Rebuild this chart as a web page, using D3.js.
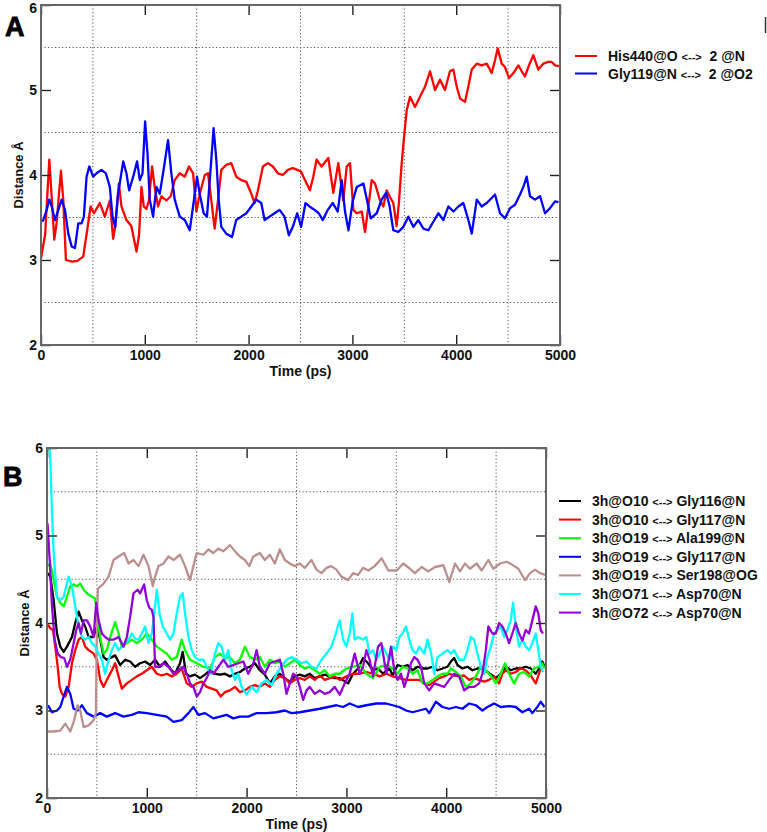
<!DOCTYPE html>
<html>
<head>
<meta charset="utf-8">
<script src="https://cdn.jsdelivr.net/npm/d3@7"></script>
<style>
  html, body { margin: 0; padding: 0; background: #fff; }
  svg { display: block; }
  text { font-family: 'Liberation Sans', Arial, Helvetica, sans-serif; font-weight: bold; }
</style>
</head>
<body>
<svg id="chart" width="767" height="832"></svg>
<script>
// ---------------- DATA ----------------
const xTicks = [0, 1000, 2000, 3000, 4000, 5000];
const yTicks = [2, 3, 4, 5, 6];
const xGrid = [500, 1500, 2500, 3500, 4500];
const yGrid = [2.5, 3.5, 4.5, 5.5];

const legendA = ["His440@O <-->  2 @N", "Gly119@N <-->  2 @O2"];
const colorsA = ["#ff0000", "#0000ff"];

const legendB = ["3h@O10 <--> Gly116@N", "3h@O10 <--> Gly117@N", "3h@O19 <--> Ala199@N",
  "3h@O19 <--> Gly117@N", "3h@O19 <--> Ser198@OG", "3h@O71 <--> Asp70@N", "3h@O72 <--> Asp70@N"];
const colorsB = ["#000000", "#ff0000", "#00ff00", "#0000ff", "#bc8f8f", "#00ffff", "#9400d3"];

// Panel A: His440@O <--> 2@N
const his440 = [[0,3.02],[40,3.3],[80,4.18],[105,3.7],[128,3.24],[150,3.43],[192,4.05],[215,3.7],[240,3.0],[300,2.98],[350,2.99],[407,3.04],[445,3.35],[478,3.63],[510,3.55],[567,3.67],[615,3.51],[663,3.7],[695,3.25],[715,3.4],[750,3.9],[775,3.63],[823,3.47],[870,3.4],[920,3.1],[945,3.3],[968,3.86],[990,3.63],[1016,3.6],[1040,3.7],[1070,4.1],[1095,3.86],[1128,3.63],[1160,3.75],[1208,3.7],[1250,3.75],[1288,3.94],[1337,4.02],[1385,3.98],[1426,4.1],[1465,4.02],[1497,3.57],[1530,3.78],[1578,4.0],[1609,4.02],[1641,3.7],[1673,3.37],[1705,3.7],[1737,4.06],[1785,4.12],[1833,4.14],[1881,3.98],[1929,3.94],[1978,3.92],[2026,3.78],[2058,3.67],[2090,3.82],[2138,4.1],[2186,4.14],[2234,4.1],[2282,4.02],[2330,4.0],[2378,4.06],[2426,4.08],[2470,4.06],[2506,4.04],[2543,3.94],[2591,3.82],[2623,3.98],[2655,4.18],[2703,4.1],[2768,4.2],[2816,3.79],[2864,4.14],[2912,3.7],[2945,4.1],[2977,4.14],[3009,3.59],[3041,3.55],[3090,3.57],[3122,3.33],[3154,3.63],[3186,3.94],[3218,3.9],[3266,3.7],[3298,3.63],[3330,3.82],[3362,3.74],[3394,3.67],[3426,3.4],[3448,3.67],[3475,4.14],[3498,4.45],[3523,4.76],[3555,4.92],[3603,4.8],[3651,4.92],[3700,5.04],[3748,5.22],[3796,5.0],[3844,5.12],[3892,5.0],[3940,5.22],[3973,5.24],[4005,5.04],[4037,4.9],[4085,4.86],[4117,5.04],[4150,5.24],[4198,5.31],[4246,5.29],[4294,5.31],[4342,5.2],[4374,5.35],[4400,5.49],[4438,5.31],[4470,5.27],[4509,5.14],[4551,5.2],[4599,5.29],[4631,5.22],[4663,5.16],[4695,5.27],[4743,5.41],[4791,5.24],[4839,5.31],[4888,5.33],[4920,5.33],[4952,5.29],[4990,5.28]];

// Panel A: Gly119@N <--> 2@O2
const gly119 = [[16,3.45],[55,3.59],[80,3.71],[103,3.63],[135,3.47],[167,3.59],[199,3.71],[231,3.59],[263,3.31],[295,3.16],[327,3.14],[359,3.43],[391,3.43],[413,3.51],[439,3.98],[465,4.1],[503,3.98],[535,4.02],[583,4.06],[625,4.02],[663,3.86],[689,3.51],[715,3.39],[743,3.78],[792,4.16],[823,4.02],[849,3.82],[888,3.98],[926,4.16],[952,3.94],[978,4.02],[1003,4.63],[1026,4.25],[1048,3.71],[1080,3.51],[1112,3.86],[1144,3.78],[1176,4.02],[1224,4.41],[1256,4.02],[1288,3.71],[1337,3.51],[1385,3.47],[1433,3.35],[1465,3.63],[1503,3.98],[1529,3.78],[1567,3.55],[1599,3.51],[1631,4.02],[1663,4.55],[1689,4.18],[1712,3.71],[1737,3.39],[1785,3.31],[1840,3.27],[1881,3.47],[1929,3.51],[1978,3.55],[2026,3.63],[2074,3.71],[2122,3.67],[2154,3.47],[2202,3.51],[2250,3.55],[2298,3.59],[2346,3.51],[2388,3.29],[2426,3.39],[2468,3.55],[2506,3.39],[2548,3.67],[2587,3.63],[2635,3.59],[2676,3.55],[2715,3.47],[2763,3.59],[2811,3.67],[2859,3.57],[2897,3.94],[2929,3.57],[2962,3.35],[3003,3.69],[3042,3.86],[3106,3.9],[3140,3.71],[3176,3.49],[3234,3.55],[3282,3.71],[3324,3.79],[3356,3.65],[3394,3.35],[3442,3.33],[3491,3.39],[3539,3.51],[3587,3.39],[3635,3.47],[3684,3.37],[3732,3.35],[3780,3.45],[3828,3.55],[3876,3.47],[3925,3.63],[3973,3.57],[4021,3.63],[4069,3.67],[4117,3.47],[4150,3.31],[4198,3.71],[4246,3.63],[4294,3.67],[4342,3.73],[4374,3.77],[4422,3.55],[4470,3.49],[4519,3.61],[4567,3.65],[4615,3.77],[4647,3.86],[4679,3.98],[4711,3.75],[4759,3.71],[4808,3.75],[4856,3.55],[4904,3.61],[4952,3.69],[4985,3.68]];

// Panel B series
const o10Gly116 = [[10,4.57],[33,4.53],[67,4.26],[100,3.88],[133,3.73],[167,3.67],[200,3.73],[250,3.84],[283,4.0],[317,4.13],[350,4.03],[383,3.96],[417,3.84],[467,3.84],[500,3.96],[533,3.81],[567,3.61],[600,3.58],[650,3.61],[683,3.63],[733,3.52],[783,3.58],[833,3.56],[883,3.5],[933,3.54],[983,3.56],[1033,3.52],[1083,3.58],[1133,3.5],[1183,3.56],[1233,3.48],[1283,3.42],[1333,3.54],[1360,3.67],[1393,3.42],[1433,3.39],[1483,3.41],[1533,3.37],[1583,3.41],[1633,3.46],[1683,3.42],[1733,3.41],[1783,3.42],[1833,3.39],[1883,3.42],[1933,3.44],[1983,3.48],[2033,3.5],[2083,3.54],[2133,3.46],[2183,3.41],[2233,3.31],[2283,3.39],[2333,3.42],[2383,3.37],[2433,3.33],[2483,3.39],[2533,3.41],[2583,3.39],[2633,3.42],[2683,3.37],[2733,3.39],[2783,3.41],[2833,3.39],[2883,3.37],[2933,3.37],[3017,3.31],[3067,3.42],[3117,3.48],[3167,3.6],[3217,3.54],[3267,3.46],[3317,3.48],[3367,3.42],[3433,3.48],[3463,3.4],[3513,3.52],[3563,3.5],[3613,3.52],[3663,3.46],[3713,3.5],[3763,3.48],[3813,3.48],[3863,3.5],[3913,3.46],[3963,3.48],[4013,3.5],[4047,3.56],[4080,3.6],[4113,3.52],[4163,3.48],[4213,3.5],[4263,3.46],[4313,3.48],[4363,3.48],[4413,3.44],[4463,3.4],[4497,3.37],[4547,3.42],[4597,3.5],[4647,3.46],[4697,3.48],[4747,3.48],[4797,3.5],[4847,3.48],[4897,3.42],[4930,3.48],[4963,3.56],[4987,3.5]];

const o10Gly117 = [[10,3.98],[33,3.94],[60,3.92],[83,3.73],[107,3.5],[127,3.27],[150,3.19],[183,3.16],[217,3.27],[250,3.54],[283,3.69],[317,3.81],[350,3.84],[383,3.73],[417,3.69],[467,3.65],[500,3.58],[533,3.35],[567,3.27],[600,3.35],[650,3.46],[683,3.54],[717,3.39],[750,3.25],[800,3.31],[850,3.35],[900,3.39],[950,3.42],[1000,3.46],[1050,3.5],[1100,3.42],[1150,3.4],[1200,3.42],[1250,3.39],[1300,3.42],[1350,3.48],[1400,3.31],[1450,3.27],[1500,3.31],[1550,3.33],[1600,3.27],[1650,3.25],[1700,3.23],[1740,3.16],[1783,3.21],[1833,3.23],[1883,3.27],[1933,3.21],[1983,3.23],[2033,3.27],[2083,3.29],[2133,3.27],[2183,3.31],[2233,3.27],[2283,3.35],[2333,3.39],[2383,3.37],[2433,3.31],[2483,3.35],[2533,3.37],[2583,3.35],[2633,3.39],[2683,3.35],[2733,3.4],[2783,3.35],[2833,3.37],[2883,3.39],[2933,3.35],[3000,3.39],[3067,3.42],[3133,3.42],[3200,3.44],[3267,3.42],[3333,3.39],[3400,3.42],[3463,3.39],[3530,3.37],[3597,3.35],[3663,3.35],[3730,3.35],[3780,3.31],[3830,3.29],[3880,3.33],[3930,3.37],[3980,3.39],[4030,3.42],[4080,3.4],[4130,3.39],[4180,3.4],[4230,3.35],[4280,3.37],[4330,3.35],[4380,3.33],[4430,3.35],[4480,3.39],[4530,3.31],[4563,3.42],[4597,3.46],[4647,3.42],[4697,3.44],[4747,3.48],[4797,3.46],[4847,3.4],[4897,3.31],[4930,3.42],[4953,3.5]];

const o19Ala199 = [[10,4.65],[33,4.68],[67,4.49],[100,4.3],[133,4.23],[167,4.19],[200,4.3],[233,4.42],[267,4.44],[300,4.42],[333,4.45],[367,4.38],[400,4.34],[450,4.3],[483,4.28],[500,4.11],[533,3.84],[567,3.65],[600,3.69],[633,3.84],[683,4.01],[717,3.88],[750,3.73],[800,3.77],[850,3.81],[900,3.77],[950,3.81],[1000,3.88],[1050,3.81],[1100,3.73],[1150,3.69],[1200,3.65],[1250,3.58],[1300,3.61],[1350,3.81],[1383,3.69],[1433,3.58],[1500,3.54],[1567,3.5],[1633,3.48],[1683,3.61],[1733,3.65],[1783,3.6],[1833,3.61],[1883,3.54],[1933,3.58],[1983,3.73],[2033,3.61],[2083,3.58],[2133,3.61],[2183,3.5],[2233,3.58],[2283,3.54],[2333,3.56],[2383,3.5],[2433,3.54],[2483,3.58],[2533,3.52],[2583,3.48],[2633,3.5],[2683,3.46],[2733,3.42],[2783,3.46],[2833,3.39],[2883,3.42],[2933,3.42],[3000,3.48],[3067,3.5],[3133,3.52],[3200,3.42],[3267,3.37],[3333,3.5],[3400,3.52],[3463,3.48],[3513,3.42],[3563,3.5],[3613,3.48],[3663,3.42],[3713,3.46],[3763,3.31],[3813,3.31],[3863,3.35],[3913,3.39],[3963,3.42],[4013,3.42],[4047,3.48],[4097,3.44],[4147,3.39],[4197,3.27],[4247,3.31],[4297,3.39],[4347,3.5],[4397,3.46],[4447,3.4],[4497,3.31],[4547,3.42],[4590,3.54],[4630,3.42],[4680,3.31],[4730,3.42],[4780,3.44],[4830,3.39],[4880,3.48],[4930,3.5],[4963,3.54],[4987,3.48]];

const o19Gly117 = [[10,3.06],[50,2.98],[100,3.0],[133,3.04],[167,3.16],[200,3.27],[233,3.19],[267,3.02],[307,3.0],[350,3.06],[400,2.97],[467,2.93],[533,2.97],[600,2.93],[683,2.97],[767,2.93],[850,2.95],[917,2.98],[1000,2.97],[1100,2.95],[1200,2.93],[1267,2.87],[1350,2.89],[1417,2.97],[1467,3.04],[1517,2.95],[1583,2.97],[1667,2.91],[1733,2.93],[1800,2.95],[1867,2.91],[1933,2.93],[2017,2.93],[2100,2.97],[2200,2.97],[2300,2.98],[2383,3.0],[2450,2.97],[2533,2.98],[2633,3.0],[2733,3.02],[2817,3.04],[2900,3.06],[2967,3.04],[3033,3.08],[3117,3.04],[3200,3.06],[3300,3.08],[3397,3.08],[3463,3.06],[3530,3.04],[3597,3.0],[3663,2.98],[3730,3.0],[3797,3.02],[3830,2.97],[3897,3.1],[3963,3.04],[4030,3.02],[4097,3.04],[4163,3.02],[4230,3.08],[4297,3.06],[4363,3.0],[4413,3.04],[4480,3.08],[4547,3.04],[4630,3.05],[4697,3.04],[4763,2.98],[4830,3.02],[4863,2.97],[4913,3.04],[4947,3.1],[4985,3.04]];

const o19Ser198 = [[10,2.76],[67,2.76],[133,2.77],[183,2.85],[233,2.76],[273,2.89],[307,3.06],[333,3.0],[367,2.81],[417,2.83],[467,2.89],[490,2.97],[500,4.03],[510,4.38],[517,4.4],[567,4.45],[617,4.53],[667,4.72],[717,4.76],[773,4.8],[817,4.68],[867,4.72],[917,4.65],[967,4.78],[1017,4.65],[1060,4.42],[1083,4.53],[1117,4.65],[1167,4.68],[1217,4.76],[1267,4.72],[1333,4.78],[1383,4.65],[1433,4.49],[1467,4.65],[1500,4.8],[1567,4.78],[1617,4.84],[1667,4.8],[1717,4.85],[1767,4.82],[1833,4.89],[1883,4.82],[1933,4.76],[1983,4.72],[2027,4.65],[2067,4.76],[2133,4.8],[2183,4.72],[2233,4.78],[2283,4.68],[2333,4.84],[2383,4.72],[2433,4.68],[2483,4.65],[2533,4.68],[2583,4.63],[2650,4.72],[2700,4.61],[2750,4.57],[2800,4.63],[2850,4.65],[2900,4.61],[2950,4.53],[3017,4.49],[3067,4.57],[3117,4.55],[3167,4.63],[3220,4.6],[3283,4.65],[3353,4.74],[3420,4.6],[3504,4.6],[3570,4.68],[3637,4.62],[3687,4.57],[3754,4.64],[3821,4.59],[3888,4.64],[3971,4.66],[4031,4.47],[4088,4.68],[4138,4.59],[4188,4.68],[4238,4.62],[4305,4.68],[4355,4.6],[4422,4.72],[4472,4.62],[4539,4.68],[4606,4.7],[4656,4.67],[4723,4.62],[4790,4.49],[4840,4.57],[4890,4.61],[4940,4.57],[4990,4.55]];

const o71Asp70 = [[0,6.3],[20,6.05],[33,5.87],[50,5.26],[67,4.8],[100,4.3],[133,4.26],[167,4.3],[193,4.42],[217,4.53],[250,4.42],[283,4.19],[317,3.96],[350,3.84],[383,3.81],[417,3.84],[450,3.77],[483,3.73],[517,3.65],[550,3.58],[583,3.42],[617,3.58],[650,3.69],[683,3.77],[717,3.69],[750,3.73],[783,3.77],[817,3.81],[850,3.88],[883,3.82],[917,3.81],[950,3.88],[983,3.96],[1017,3.77],[1050,3.88],[1083,4.19],[1100,4.38],[1127,4.11],[1160,3.96],[1200,3.88],[1233,3.81],[1267,3.88],[1300,4.11],[1333,4.3],[1360,4.34],[1383,4.11],[1417,3.84],[1450,3.69],[1483,3.61],[1517,3.58],[1567,3.58],[1600,3.5],[1640,3.42],[1683,3.65],[1717,3.77],[1750,3.73],[1783,3.58],[1817,3.69],[1850,3.46],[1883,3.35],[1917,3.42],[1950,3.27],[2000,3.18],[2050,3.27],[2100,3.21],[2150,3.31],[2200,3.35],[2250,3.29],[2300,3.42],[2350,3.5],[2400,3.58],[2450,3.61],[2500,3.58],[2550,3.54],[2600,3.56],[2650,3.5],[2700,3.48],[2750,3.58],[2800,3.65],[2850,3.73],[2883,3.84],[2933,4.03],[2967,3.81],[3000,3.73],[3033,3.88],[3060,4.11],[3083,3.81],[3117,3.84],[3167,3.81],[3200,3.84],[3233,3.65],[3267,3.69],[3300,3.58],[3333,3.65],[3367,3.73],[3400,3.65],[3433,3.58],[3467,3.73],[3500,3.69],[3530,3.84],[3563,3.88],[3597,3.96],[3630,3.81],[3663,3.69],[3697,3.65],[3730,3.73],[3780,3.65],[3813,3.81],[3850,3.65],[3880,3.42],[3913,3.61],[3963,3.65],[4013,3.69],[4047,3.65],[4080,3.69],[4130,3.58],[4180,3.58],[4213,3.69],[4247,3.84],[4280,3.81],[4313,3.65],[4347,3.5],[4380,3.42],[4413,3.61],[4447,3.73],[4480,3.88],[4513,3.92],[4547,3.96],[4580,3.84],[4613,3.92],[4647,4.03],[4670,4.23],[4697,3.96],[4730,3.73],[4763,3.81],[4797,3.73],[4830,3.69],[4863,3.77],[4897,3.88],[4923,3.69],[4947,3.5],[4970,3.44]];

const o72Asp70 = [[5,5.14],[27,4.72],[50,4.19],[77,3.81],[107,3.65],[140,3.61],[173,3.6],[200,3.5],[233,3.58],[260,3.73],[293,3.92],[317,4.0],[340,3.88],[367,4.03],[400,4.03],[433,3.96],[467,3.84],[493,4.23],[517,4.03],[550,3.88],[583,3.84],[617,3.81],[667,3.81],[717,3.84],[767,3.73],[800,3.84],[833,4.07],[867,4.34],[907,4.38],[933,4.34],[973,4.44],[1000,4.26],[1027,4.17],[1050,4.15],[1067,4.07],[1083,3.5],[1117,3.5],[1167,3.54],[1217,3.5],[1267,3.42],[1317,3.46],[1367,3.5],[1400,3.42],[1433,3.31],[1467,3.27],[1500,3.16],[1533,3.21],[1567,3.31],[1600,3.37],[1633,3.46],[1667,3.42],[1717,3.5],[1767,3.58],[1817,3.5],[1867,3.52],[1917,3.54],[1967,3.56],[2017,3.42],[2067,3.54],[2100,3.69],[2133,3.5],[2183,3.42],[2233,3.54],[2283,3.56],[2333,3.58],[2367,3.42],[2400,3.19],[2433,3.31],[2467,3.42],[2500,3.39],[2533,3.27],[2567,3.12],[2600,3.23],[2633,3.27],[2683,3.19],[2733,3.23],[2783,3.19],[2833,3.21],[2883,3.27],[2933,3.18],[2983,3.31],[3033,3.42],[3083,3.65],[3133,3.42],[3167,3.5],[3200,3.69],[3233,3.58],[3267,3.39],[3317,3.73],[3350,3.77],[3400,3.42],[3447,3.73],[3480,3.46],[3513,3.35],[3547,3.42],[3580,3.27],[3613,3.39],[3647,3.54],[3680,3.61],[3713,3.58],[3747,3.5],[3780,3.31],[3830,3.23],[3880,3.31],[3930,3.29],[3980,3.27],[4030,3.35],[4080,3.42],[4130,3.39],[4180,3.23],[4230,3.27],[4280,3.27],[4330,3.31],[4363,3.42],[4397,3.69],[4423,3.96],[4463,3.88],[4497,3.88],[4530,4.0],[4563,3.96],[4597,3.88],[4630,3.77],[4663,3.88],[4697,4.0],[4730,3.88],[4763,3.8],[4797,3.92],[4830,3.88],[4863,4.03],[4897,4.19],[4923,4.11],[4947,3.92],[4970,3.88]];

const seriesA = [his440, gly119];
const seriesB = [o10Gly116, o10Gly117, o19Ala199, o19Gly117, o19Ser198, o71Asp70, o72Asp70];

// ---------------- DRAW ----------------
const svg = d3.select("#chart");

function drawPanel(cfg) {
  const g = svg.append("g");
  const x = d3.scaleLinear().domain([0, 5000]).range([cfg.left, cfg.right]);
  const y = d3.scaleLinear().domain([2, 6]).range([cfg.bottom, cfg.top]);

  // dotted grid at half steps
  g.selectAll(".gx").data(xGrid).join("line")
    .attr("x1", d => x(d)).attr("x2", d => x(d))
    .attr("y1", cfg.top).attr("y2", cfg.bottom)
    .attr("stroke", "#555").attr("stroke-width", 1).attr("stroke-dasharray", "1.2,2.3");
  g.selectAll(".gy").data(yGrid).join("line")
    .attr("y1", d => y(d)).attr("y2", d => y(d))
    .attr("x1", cfg.left).attr("x2", cfg.right)
    .attr("stroke", "#555").attr("stroke-width", 1).attr("stroke-dasharray", "1.2,2.3");

  // clip
  const clipId = "clip" + cfg.id;
  svg.append("clipPath").attr("id", clipId).append("rect")
    .attr("x", cfg.left).attr("y", cfg.top)
    .attr("width", cfg.right - cfg.left).attr("height", cfg.bottom - cfg.top);

  const line = d3.line().x(d => x(d[0])).y(d => y(d[1]));
  g.append("g").attr("clip-path", `url(#${clipId})`)
    .selectAll("path").data(cfg.series).join("path")
    .attr("d", line)
    .attr("fill", "none")
    .attr("stroke", (d, i) => cfg.colors[i])
    .attr("stroke-width", 2.3)
    .attr("stroke-linejoin", "round");

  // axes with inward ticks
  const styleAxis = sel => {
    sel.select(".domain").remove();
    sel.selectAll(".tick line").attr("stroke", "#222").attr("stroke-width", 1.4);
    sel.selectAll(".tick text").attr("fill", "#111").style("font-size", "14px")
      .style("font-family", "'Liberation Sans', Arial, sans-serif").style("font-weight", "bold");
  };
  g.append("g").attr("transform", `translate(0,${cfg.bottom})`)
    .call(d3.axisBottom(x).tickValues(xTicks).tickFormat(d3.format("d")).tickSizeInner(-10).tickSizeOuter(0).tickPadding(5))
    .call(styleAxis);
  g.append("g").attr("transform", `translate(0,${cfg.top})`)
    .call(d3.axisTop(x).tickValues(xTicks).tickFormat("").tickSizeInner(-10).tickSizeOuter(0))
    .call(styleAxis);
  const yAx = g.append("g").attr("transform", `translate(${cfg.left},0)`)
    .call(d3.axisLeft(y).tickValues(yTicks).tickFormat(d3.format("d")).tickSizeInner(-10).tickSizeOuter(0).tickPadding(4))
    .call(styleAxis);
  if (cfg.top < 8) {
    yAx.selectAll(".tick text").filter(d => d === 6).attr("dy", "0.5em");
  }
  g.append("g").attr("transform", `translate(${cfg.right},0)`)
    .call(d3.axisRight(y).tickValues(yTicks).tickFormat("").tickSizeInner(-10).tickSizeOuter(0))
    .call(styleAxis);

  // frame
  g.append("rect").attr("x", cfg.left).attr("y", cfg.top)
    .attr("width", cfg.right - cfg.left).attr("height", cfg.bottom - cfg.top)
    .attr("fill", "none").attr("stroke", "#666").attr("stroke-width", 2);

  // titles
  g.append("text").attr("x", (cfg.left + cfg.right) / 2).attr("y", cfg.xTitleY)
    .attr("text-anchor", "middle").style("font-size", "14px").attr("fill", "#111").text("Time (ps)");
  g.append("text")
    .attr("transform", `translate(${cfg.yTitleX},${(cfg.top + cfg.bottom) / 2}) rotate(-90)`)
    .attr("text-anchor", "middle").style("font-size", "13px").attr("fill", "#111").text("Distance Å");

  // panel letter
  g.append("text").attr("x", cfg.letterX).attr("y", cfg.letterY)
    .style("font-size", "27px").style("font-weight", "900")
    .attr("stroke", "#000").attr("stroke-width", 0.8)
    .attr("fill", "#000").text(cfg.letter);

  // legend
  const lg = g.append("g");
  const rows = lg.selectAll("g").data(cfg.legend).join("g")
    .attr("transform", (d, i) => `translate(0,${cfg.legY + i * cfg.legStep})`);
  rows.append("line").attr("x1", cfg.legX).attr("x2", cfg.legX + 22)
    .attr("y1", 0).attr("y2", 0)
    .attr("stroke", (d, i) => cfg.colors[i]).attr("stroke-width", 2);
  const txt = rows.append("text").attr("x", cfg.legX + 33).attr("y", 5)
    .style("font-size", "14px").style("white-space", "pre").attr("fill", "#111");
  txt.each(function(d) {
    const parts = d.split("<-->");
    const t = d3.select(this);
    t.append("tspan").text(parts[0]);
    t.append("tspan").style("font-size", "11px").text("<-->");
    t.append("tspan").text(parts[1]);
  });
}

drawPanel({
  id: "A", left: 41, right: 560, top: 5, bottom: 345,
  series: seriesA, colors: colorsA, legend: legendA,
  legX: 575, legY: 56, legStep: 17.5,
  xTitleY: 376, yTitleX: 23, letter: "A", letterX: 5, letterY: 36
});

drawPanel({
  id: "B", left: 47, right: 546, top: 448, bottom: 798,
  series: seriesB, colors: colorsB, legend: legendB,
  legX: 559, legY: 501, legStep: 18.6,
  xTitleY: 829, yTitleX: 29, letter: "B", letterX: 3, letterY: 486
});

// small edge artifact at top right
svg.append("line").attr("x1", 765.5).attr("x2", 765.5).attr("y1", 17).attr("y2", 33)
  .attr("stroke", "#333").attr("stroke-width", 1.5);
</script>
</body>
</html>
